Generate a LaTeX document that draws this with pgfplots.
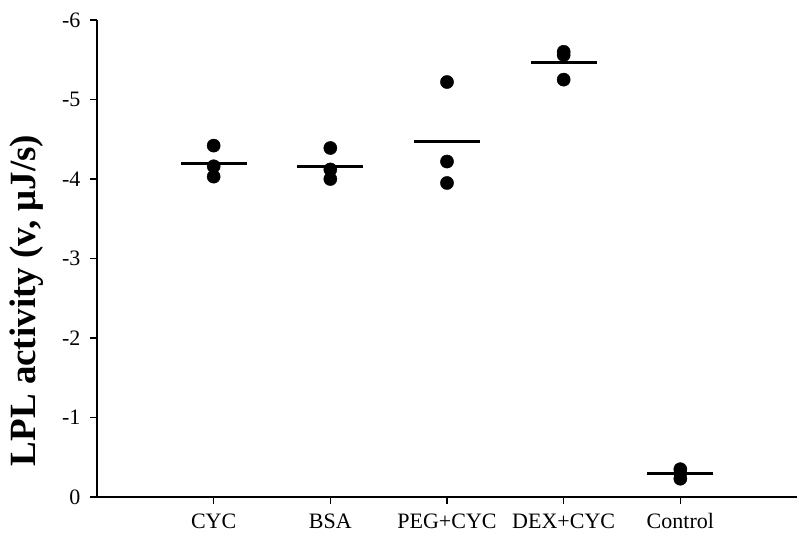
\documentclass[border=0pt]{standalone}
\usepackage{fontspec}
\setmainfont{Liberation Serif}
\usepackage{pgfplots}
\pgfplotsset{compat=1.18}
\begin{document}
\begin{tikzpicture}
\begin{axis}[
  scale only axis, width=700pt, height=477pt,
  xmin=0, xmax=6, ymin=-6, ymax=0, y dir=reverse,
  axis x line=bottom, axis y line=left,
  axis line style={-, line width=1.6pt},
  xtick={1,...,5}, xticklabels={CYC,BSA,PEG+CYC,DEX+CYC,Control},
  ytick={-6,...,0},
  tick align=outside, major tick length=7pt,
  tick style={line width=1.6pt, black},
  /pgf/number format/assume math mode=true,
  tick label style={font=\fontsize{22}{25}\selectfont},
  xticklabel style={yshift=-6pt},
  yticklabel style={xshift=-6pt},
  ylabel={LPL activity (v, μJ/s)},
  ylabel style={font=\fontsize{37}{40}\selectfont\bfseries, at={(axis description cs:-0.1,0.5)}, anchor=center, xshift=-42pt},
  clip=false,
]
\addplot[only marks, mark=*, mark size=6.6pt, black] coordinates {
  (1,-4.42) (1,-4.16) (1,-4.03)
  (2,-4.39) (2,-4.12) (2,-4.00)
  (3,-5.22) (3,-4.22) (3,-3.95)
  (4,-5.60) (4,-5.56) (4,-5.25)
  (5,-0.35) (5,-0.30) (5,-0.23)
};
\addplot[only marks, mark=-, mark size=33pt, black, mark options={line width=3pt}] coordinates {
  (1,-4.20) (2,-4.16) (3,-4.47) (4,-5.47) (5,-0.29)
};
\coordinate (O) at (axis cs:0,0);
\end{axis}
\pgfresetboundingbox
\path[use as bounding box] ([shift={(-97pt,-41pt)}]O) rectangle ++(799pt,538pt);
\end{tikzpicture}
\end{document}
